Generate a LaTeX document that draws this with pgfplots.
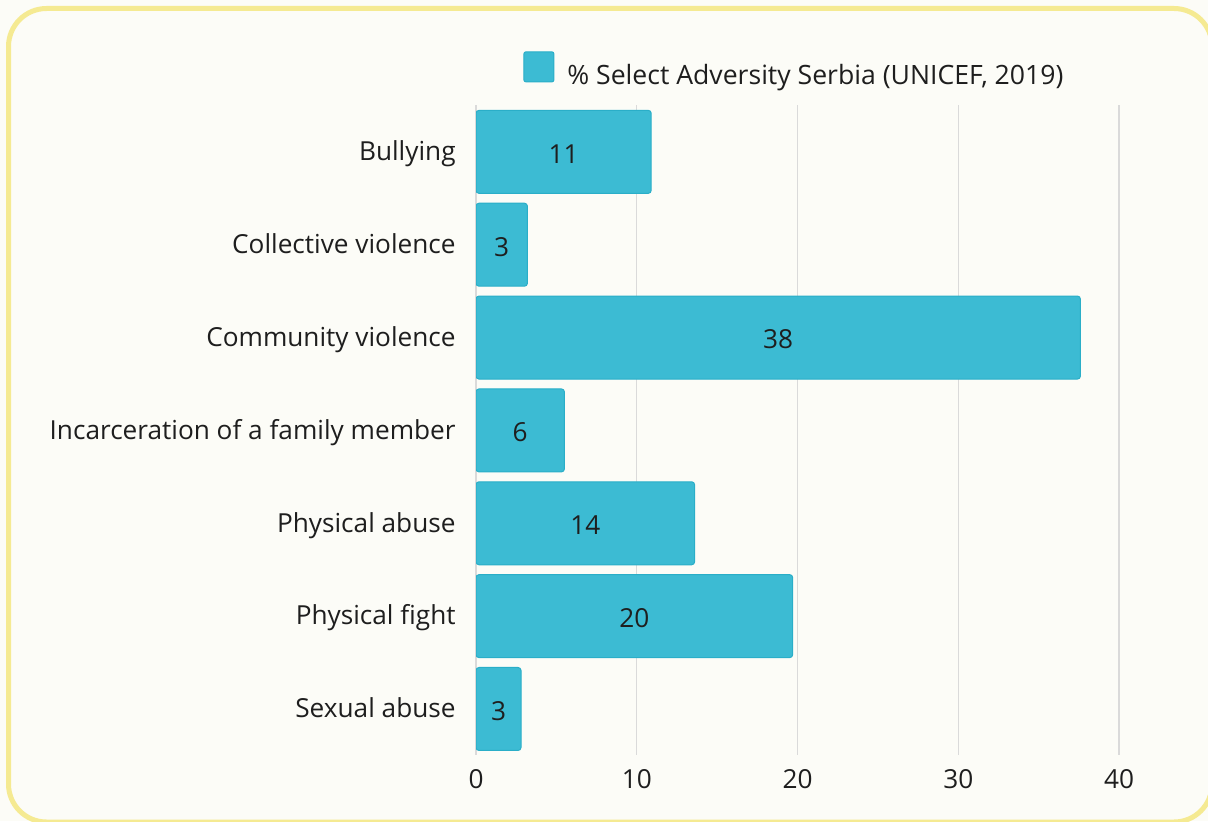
\documentclass[border=0pt]{standalone}
\usepackage{pgfplots}
\pgfplotsset{compat=1.18}
\usepackage{pgfplotstable}
\usepackage{fontspec}
\setmainfont{Open Sans}
\definecolor{barfill}{HTML}{3CBBD3}
\definecolor{barline}{HTML}{2AAEC8}
\definecolor{bgcol}{HTML}{FCFCF7}
\definecolor{framecol}{HTML}{F5EA92}
\definecolor{gridcol}{HTML}{DADADA}
\definecolor{txt}{HTML}{1E1E1E}

\pgfplotstableread{
idx v lab
0 10.9 11
1 3.2 3
2 37.6 38
3 5.5 6
4 13.6 14
5 19.7 20
6 2.8 3
}\advtable

\begin{document}
\begin{tikzpicture}
\useasboundingbox (0,0) rectangle (604pt,410.5pt);
\clip (0,0) rectangle (604pt,410.5pt);
\fill[bgcol] (0,0) rectangle (604pt,410.5pt);
\draw[framecol, line width=2.5pt, rounded corners=19pt] (4.25pt,-0.5pt) rectangle (606pt,406.25pt);
\begin{axis}[
  at={(238pt,32.8pt)}, anchor=south west,
  width=321.5pt, height=325pt, scale only axis,
  xbar, bar shift=0pt, bar width=0.894,
  xmin=0, xmax=40, ymin=-0.5, ymax=6.5, y dir=reverse,
  axis line style={draw=none},
  xtick={0,10,20,30,40}, xmajorgrids,
  major grid style={gridcol, line width=0.6pt},
  ytick={0,...,6},
  yticklabels={Bullying, Collective violence, Community violence, Incarceration of a family member, Physical abuse, Physical fight, Sexual abuse},
  major tick length=0pt,
  tick label style={font=\fontsize{13.1}{15}\selectfont, text=txt},
  yticklabel style={anchor=base east, inner sep=0pt, xshift=-10pt, yshift=-4.4pt},
  xticklabel style={anchor=north, inner sep=0pt, yshift=-7pt},
  /pgf/number format/assume math mode=true,
  nodes near coords, point meta=explicit,
  visualization depends on={\thisrow{v}/2 \as \halfv},
  every node near coord/.append style={anchor=center, shift={(axis direction cs:-\halfv,0)}, yshift=-1pt, font=\fontsize{13.1}{15}\selectfont, text=txt},
  legend style={at={(0.0731,1)}, anchor=west, yshift=17pt, draw=none, fill=none, inner sep=0pt, font=\fontsize{13.3}{15}\selectfont, text=txt},
  legend image code/.code={\draw[fill=barfill, draw=barline, line width=0.5pt, rounded corners=1pt] (0pt,-3pt) rectangle (15pt,12pt);},
]
\addplot[fill=barfill, draw=barline, line width=0.5pt, rounded corners=1.5pt] table[x=v, y=idx, meta=lab] {\advtable};
\addlegendentry{\hspace{4.5pt}\% Select Adversity Serbia (UNICEF, 2019)}
\end{axis}
\end{tikzpicture}
\end{document}
